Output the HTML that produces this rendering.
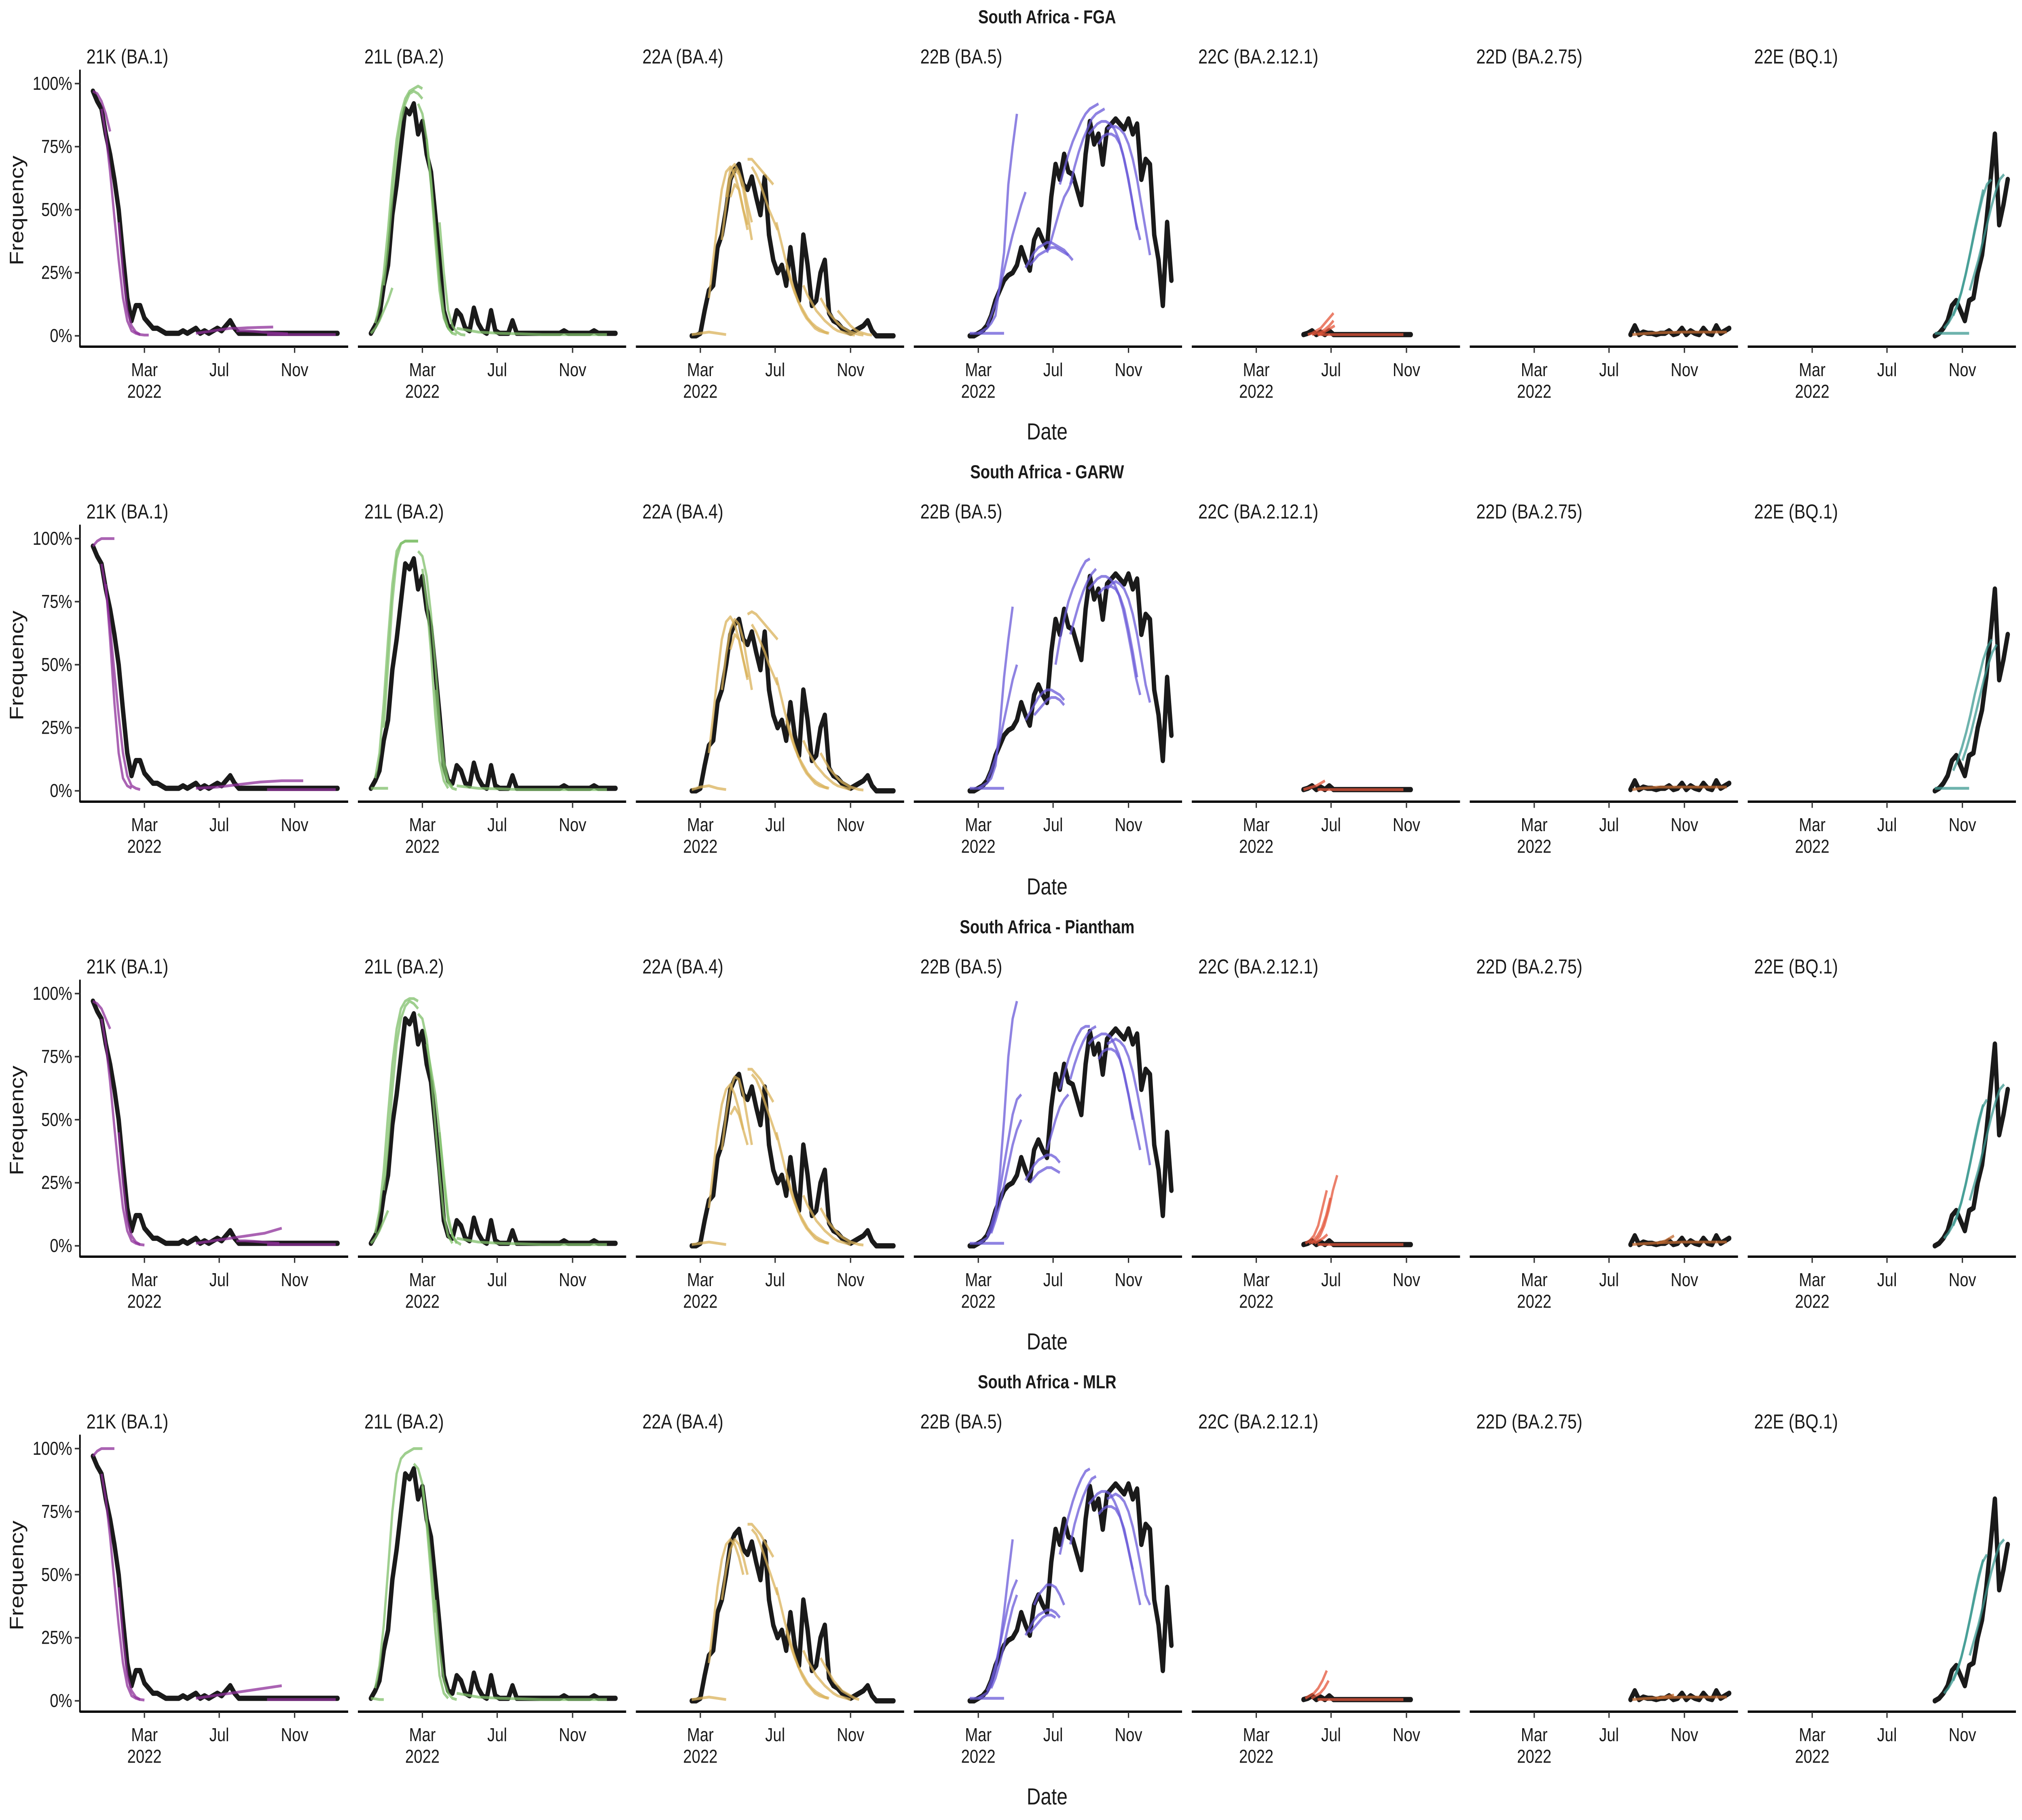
<!DOCTYPE html>
<html><head><meta charset="utf-8">
<style>
html,body{margin:0;padding:0;background:#fff;width:100%;height:100%;overflow:hidden;}
svg{display:block;width:100vw;height:100vh;}
text{font-family:"Liberation Sans",Arial,sans-serif;fill:#1a1a1a;}
</style></head>
<body>
<svg id="chart" xmlns="http://www.w3.org/2000/svg" viewBox="0 0 1568 1176" preserveAspectRatio="none"></svg>
<script>
// ---------- data ----------
const rowTitles = ["South Africa - FGA","South Africa - GARW","South Africa - Piantham","South Africa - MLR"];
const variantLabels = ["21K (BA.1)","21L (BA.2)","22A (BA.4)","22B (BA.5)","22C (BA.2.12.1)","22D (BA.2.75)","22E (BQ.1)"];
const variantColors = ["#8e2f99","#7fbf6a","#d9b25a","#6a5ad8","#e4553a","#c06a30","#3e9a92"];
const xTickLabels = ["Mar","Jul","Nov"];
const xTickDays = [0,122,245];
const yTickValues = [0,25,50,75,100];
const yTickLabels = ["0%","25%","50%","75%","100%"];
// observed frequencies (percent), weekly steps from start day (days since 1 Mar 2022)
const obsStart = [-84,-84,-14,-14,77,157,200];
const obsStep = 7;
const obsBA1 = [97,93,90,80,72,62,50,32,15,6,12,12,7,5,3,3,2,1,1,1,1,2,1,2,3,1,2,1,2,3,2,4,6,3,1,1,1,1,1,1,1,1,1,1,1,1,1,1,1,1,1,1,1,1,1,1,1,1];
const obsBA2 = [1,4,8,20,28,48,60,75,90,88,92,80,85,72,65,48,30,10,4,3,10,8,3,2,11,5,2,1,10,2,1,1,1,6,1,1,1,1,1,1,1,1,1,1,1,2,1,1,1,1,1,1,2,1,1,1,1,1];
const obsBA4 = [0,0,1,10,18,20,35,40,50,62,66,68,60,58,63,55,48,63,40,30,25,28,20,35,22,14,40,28,12,14,25,30,9,6,5,3,2,1,2,3,4,6,2,0,0,0,0,0];
const obsBA5 = [0,0,1,2,4,8,14,18,22,24,25,28,35,30,26,38,42,38,35,55,68,62,72,65,64,58,52,72,85,76,80,68,82,84,86,84,82,86,80,84,62,70,68,40,30,12,45,22];
const obsBA2121 = [0.5,1,2,0.5,1.5,0.5,2,0.5,0.5,0.5,0.5,0.5,0.5,0.5,0.5,0.5,0.5,0.5,0.5,0.5,0.5,0.5,0.5,0.5,0.5,0.5];
const obsBA275 = [0.5,4,0.5,1.5,1,1,0.5,1,1,2,0.5,1,3,0.5,2,1,0.5,3,1,0.5,4,1,2,3];
const obsBQ1 = [0,1,3,6,12,14,10,6,14,15,25,32,45,62,80,44,52,62];
const observed = [obsBA1,obsBA2,obsBA4,obsBA5,obsBA2121,obsBA275,obsBQ1];

// forecasts: [startDay, stepDays, values...]
const fcFGA = [
 [[-84,7,97,96,93,88,81],[-70,7,90,80,65,47,30,15,6,2,1,0.5],[-42,7,45,25,10,4,1.5,0.5,0.3,0.3],[84,14,1,1.5,2,2.5,3,3,3.2,3.3,3.4,3.5],[150,14,2,2,1.8,1.5,1.2,1,0.8],[200,28,0.5,0.5,0.5,0.5,0.5]],
 [[-84,7,1,3,6,10,14,19],[-77,7,5,12,25,42,62,78,88,94,97,98,99,98],[-63,7,20,35,55,72,85,92,96,97,96,94],[-7,7,92,88,78,60,38,18,7,3,1],[7,7,78,62,42,22,9,3,1,0.5],[28,7,45,25,10,4,1.5,0.5,0.3],[56,35,3,1.5,1,0.8,0.5,0.5,0.5,0.5]],
 [[-14,14,0.5,1,1.5,1,0.5],[14,7,15,30,45,58,65,67,64,58,50,42],[35,7,38,52,62,66,64,58,48,38],[49,7,55,60,58,50,44],[42,7,55,66,68,65,60,52,45],[77,7,70,70,68,66,64,62,60],[84,7,67,64,60,55,50,46,42],[124,7,45,38,31,25,19,14,10,7,5,3,2,1.5,1],[140,7,28,22,17,13,10,7,5,3.5,2.5,1.5,1],[168,7,20,16,13,10,8,6,4.5,3,2,1.5,1,0.5,0.3],[196,7,15,12,9,7,5,3.5,2.5,1.5,1,0.5,0.3],[224,7,10,8,6,4,2.5,1.5,1,0.5,0.3]],
 [[-14,14,1,1,1,1,1],[0,7,1,2,3,5,8,20,33,60,75,88],[14,7,4,8,13,19,26,33,40,46,52,57],[77,7,27,30,33,35,36,37,37,36,35,34,32,30],[84,7,28,30,32,33,34,35,35,34,33,32],[112,7,33,38,44,50,55,58,62],[133,7,60,66,72,77,81,85,88,90,91,92],[150,7,60,67,73,78,82,86,88,89,90],[180,7,80,82,84,85,85,84,82,78,72,64,55,45,38],[196,7,76,79,80,80,79,76,70,62,52,42],[210,7,82,83,83,82,80,76,70,62,52,42,32]],
 [[84,7,0.5,1,2,3,5,7,9],[91,7,0.5,1,1.5,2.5,4,6],[100,7,0.5,1,2,3,4],[100,35,0.5,0.5,0.5,0.5,0.5]],
 [[160,14,0.5,0.8,1,1.2,1.3,1.4,1.5,1.5,1.5,1.5,1.5,1.5]],
 [[200,14,1,1,1,1,1],[215,7,3,5,8,12,17,24,32,40,48,55,60,62],[230,7,8,12,18,25,33,42,50,58],[257,7,18,24,30,37,44,51,57,62,64]]
];
const fcGARW = [
 [[-84,7,97,99,100,100,100,100],[-70,7,90,80,65,47,30,15,6,2,1,0.5],[-63,7,82,60,35,15,5,2,1],[84,35,1,1.5,2.5,3.5,4,4],[200,28,0.5,0.5,0.5,0.5,0.5]],
 [[-84,7,1,1,1,1,1],[-77,7,5,15,35,60,82,95,98,99,99,99,99],[-63,7,25,50,75,92,98,99,99,99,99],[-7,7,95,93,85,70,50,28,12,4,1.5],[0,7,88,75,55,30,12,4,1],[21,7,40,20,8,3,1,0.5],[56,35,2,1,0.8,0.5,0.5,0.5,0.5,0.5]],
 [[-14,14,0.5,1.5,2,1,0.5],[14,7,15,30,46,60,67,69,66,60,52,44],[35,7,40,54,64,68,66,60,50,40],[49,7,56,62,60,52,45],[77,7,70,71,70,68,66,64,62,60],[84,7,66,63,59,55,50,46,42],[124,7,45,38,31,25,19,14,10,7,5,3,2,1.5,1],[140,7,28,22,17,13,10,7,5,3.5,2.5,1.5,1],[168,7,20,16,13,10,8,6,4.5,3,2,1.5,1,0.5],[196,7,15,12,9,7,5,3.5,2.5,1.5,1,0.5,0.3]],
 [[-14,14,1,1,1,1,1],[0,7,1,2,3,5,10,25,45,60,73],[14,7,4,8,13,20,28,36,44,50],[77,7,28,31,34,37,39,40,40,39,38,36],[91,7,30,32,34,36,37,37,36,34],[126,7,50,60,68,75,80,84,88,91,92],[150,7,62,68,74,79,83,86,88],[180,7,80,82,84,85,85,84,82,78,72,64,55,45,38],[196,7,78,80,81,81,80,77,72,64,55,45],[210,7,80,82,83,82,80,76,70,62,52,42,35]],
 [[77,7,0.5,1,1.5,2,3,4],[100,35,0.5,0.5,0.5,0.5,0.5]],
 [[160,14,0.5,1,1.2,1.5,1.5,1.5,1.5,1.5,1.5,1.5,1.5,1.5]],
 [[200,14,1,1,1,1,1],[230,7,8,12,17,23,30,38,45,52,57,60],[245,7,12,17,23,30,37,44,50,55,58]]
];
const fcPiantham = [
 [[-84,7,97,96,94,90,86],[-70,7,90,80,65,47,30,15,6,2,1,0.5],[-42,7,45,25,10,4,1.5,0.5,0.3],[84,14,1,1.5,2,2.5,3,3.5,4,4.5,5,6,7],[150,14,2,2,1.8,1.5,1.2,1],[200,28,0.5,0.5,0.5,0.5,0.5]],
 [[-84,7,1,3,6,10,14],[-77,7,5,14,30,52,72,86,94,97,98,98,97],[-63,7,22,40,62,80,90,95,97,96,94],[-7,7,92,90,82,68,48,28,12,4,1],[7,7,80,70,60,45,28,12,4,1],[28,7,45,25,10,4,1.5,0.5],[56,35,3,1.5,1,0.8,0.5,0.5,0.5,0.5]],
 [[-14,14,0.5,1,1.5,1,0.5],[14,7,15,30,45,56,62,64,60,54,46],[35,7,38,52,62,67,66,60,50,40],[49,7,52,55,52,46,40],[77,7,70,70,68,66,63,60,57],[84,7,68,66,62,57,52,47,42],[124,7,45,38,31,25,19,14,10,7,5,3,2,1.5,1],[140,7,28,22,17,13,10,7,5,3.5,2.5,1.5,1],[168,7,20,16,13,10,8,6,4.5,3,2,1.5,1,0.5],[196,7,15,12,9,7,5,3.5,2.5,1.5,1,0.5,0.3]],
 [[-14,14,1,1,1,1,1],[0,7,1,2,3,6,12,28,50,75,90,97],[14,7,4,8,14,22,32,42,52,58,60],[21,7,5,10,16,24,32,40,46,50],[77,7,26,29,32,34,35,36,36,35,33],[84,7,25,27,29,30,31,31,30,29],[112,7,38,44,50,55,58,60],[133,7,62,68,74,79,83,86,87,87],[150,7,66,72,77,81,84,86,87],[180,7,80,82,83,84,84,83,80,76,70,62,54,46,38],[196,7,74,77,78,78,77,74,68,60,50],[210,7,80,81,82,81,79,75,69,61,52,42,32]],
 [[80,7,1,2,4,8,15,22],[86,7,1,2,4,7,12,19],[90,7,1,2,4,8,14,22,28],[95,7,1,2,3,4.5],[100,35,0.5,0.5,0.5,0.5,0.5]],
 [[160,14,0.5,0.8,1,1.2,1.3,1.4,1.5,1.5,1.5,1.5,1.5,1.5],[200,7,1,1.5,2,3,4]],
 [[215,7,3,5,8,12,17,24,32,40,48,55,58],[230,7,8,12,18,25,33,42,50,56],[257,7,18,24,30,37,44,51,57,62,64]]
];
const fcMLR = [
 [[-84,7,97,99,100,100,100,100],[-70,7,90,80,65,47,30,15,6,2,1,0.5],[-42,7,45,25,10,4,1.5,0.5,0.3],[84,14,1,1.5,2,2.5,3,3.5,4,4.5,5,5.5,6],[200,28,0.5,0.5,0.5,0.5,0.5]],
 [[-84,7,1,0.8,0.5,0.5],[-77,7,5,14,30,52,75,90,96,98,99,100,100,100],[-14,7,94,92,86,72,55,35],[0,7,85,70,50,28,10,3,1],[21,7,40,20,8,3,1,0.5],[56,35,3,1.5,1,0.8,0.5,0.5,0.5,0.5]],
 [[-14,14,0.5,1,1.5,1,0.5],[14,7,15,30,45,56,62,64,62,57,50],[35,7,40,52,60,64,62,57,50],[77,7,70,70,68,66,63,60,57],[84,7,68,66,62,57,52,47,42],[124,7,45,38,31,25,19,14,10,7,5,3,2,1.5,1],[140,7,28,22,17,13,10,7,5,3.5,2.5,1.5,1],[168,7,20,16,13,10,8,6,4.5,3,2,1.5,1,0.5],[196,7,17,14,11,8,6,4,3,2,1,0.5]],
 [[-14,14,1,1,1,1,1],[0,7,1,2,3,6,12,22,35,50,64],[14,7,4,8,14,22,30,38,44,48],[21,7,5,9,15,22,30,37,42],[77,7,26,29,32,34,35,36,36,35,33],[84,7,27,29,31,33,34,34,33],[91,7,38,42,44,46,46,45,42,38],[133,7,58,66,73,79,84,88,91,92],[150,7,62,70,76,81,85,88,89],[180,7,78,80,82,83,83,82,79,75,69,62,54,46,38],[196,7,74,76,77,77,76,73,68,60,52],[210,7,80,81,82,81,79,75,69,61,52,42,38]],
 [[80,7,1,2,3,5,8,12],[90,7,1,2,3,5,8],[100,35,0.5,0.5,0.5,0.5,0.5]],
 [[160,14,0.5,0.8,1,1.2,1.3,1.4,1.5,1.5,1.5,1.5,1.5,1.5],[200,7,1,1.3,1.6,2,2.3]],
 [[215,7,3,5,8,12,17,24,32,40,48,55,58],[230,7,8,12,18,25,33,42,50,56],[257,7,18,24,30,37,44,51,57,62,64]]
];
const forecastRows = [fcFGA,fcGARW,fcPiantham,fcMLR];

// ---------- layout / scales ----------
const NS = "http://www.w3.org/2000/svg";
const svg = document.getElementById("chart");
const ROW_H = 294, PANEL_W = 208, PANEL_STEP = 215.55, LEFT0 = 62;
function panelLeft(p){ return LEFT0 + p*PANEL_STEP; }
function xScale(p, day){ return panelLeft(p) + 50 + day*0.4754; }
function yScale(r, pct){ return 217 + r*ROW_H - pct*1.63; }
function el(tag, attrs, parent){
  const e = document.createElementNS(NS, tag);
  for (const k in attrs) e.setAttribute(k, attrs[k]);
  (parent||svg).appendChild(e);
  return e;
}
function txt(str, attrs, parent){ const t = el("text", attrs, parent); t.textContent = str; return t; }

for (let r = 0; r < 4; r++){
  const g = el("g", {});
  
  
  const title = txt(rowTitles[r], {x:812, y:15 + r*ROW_H, "text-anchor":"middle", "font-size":"12", "font-weight":"bold"}, g);
  
  
  const dl = txt("Date", {x:812, y:284 + r*ROW_H, "text-anchor":"middle", "font-size":"15"}, g);
  
  
  const yl = txt("Frequency", {x:0, y:0, "text-anchor":"middle", "font-size":"15", transform:"translate(18," + (136 + r*ROW_H) + ") rotate(-90)"}, g);
  
  
  const yax = el("line", {x1:LEFT0, x2:LEFT0, y1:45 + r*ROW_H, y2:224.5 + r*ROW_H, stroke:"#000", "stroke-width":"1.2"}, g);
  
  
  for (let i = 0; i < yTickValues.length; i++){
    const yy = yScale(r, yTickValues[i]);
    const tk = el("line", {x1:LEFT0-4, x2:LEFT0, y1:yy, y2:yy, stroke:"#333", "stroke-width":"1"}, g);
    
    
    const tl = txt(yTickLabels[i], {x:LEFT0-6, y:yy+4, "text-anchor":"end", "font-size":"12"}, g);
    
    
  }
  for (let p = 0; p < 7; p++){
    const pg = el("g", {}, g);
    
    
    const fl = txt(variantLabels[p], {x:panelLeft(p)+5, y:41 + r*ROW_H, "font-size":"13"}, pg);
    
    
    const ax = el("line", {x1:panelLeft(p), x2:panelLeft(p)+PANEL_W, y1:224 + r*ROW_H, y2:224 + r*ROW_H, stroke:"#000", "stroke-width":"1.5"}, pg);
    
    
    for (let i = 0; i < xTickDays.length; i++){
      const xx = xScale(p, xTickDays[i]);
      const tk = el("line", {x1:xx, x2:xx, y1:224 + r*ROW_H, y2:228 + r*ROW_H, stroke:"#333", "stroke-width":"1"}, pg);
      
      
      const tl = txt(xTickLabels[i], {x:xx, y:243 + r*ROW_H, "text-anchor":"middle", "font-size":"12"}, pg);
      
      
      if (i === 0){
        const yr = txt("2022", {x:xx, y:257 + r*ROW_H, "text-anchor":"middle", "font-size":"12"}, pg);
        
        
      }
    }
    const obs = observed[p];
    const pts = obs.map((v,i) => xScale(p, obsStart[p] + i*obsStep).toFixed(2) + "," + yScale(r, v).toFixed(2)).join(" ");
    const ol = el("polyline", {points:pts, fill:"none", stroke:"#1a1a1a", "stroke-width":"3.4", "stroke-linejoin":"round", "stroke-linecap":"round"}, pg);
    
    
    const fcs = forecastRows[r][p];
    for (const fc of fcs){
      const start = fc[0], step = fc[1], vals = fc.slice(2);
      const fp = vals.map((v,i) => xScale(p, start + i*step).toFixed(2) + "," + yScale(r, v).toFixed(2)).join(" ");
      const fl2 = el("polyline", {points:fp, fill:"none", stroke:variantColors[p], "stroke-width":"1.8", "stroke-opacity":"0.75", "stroke-linejoin":"round"}, pg);
      
      
    }
  }
}
</script>
</body></html>
